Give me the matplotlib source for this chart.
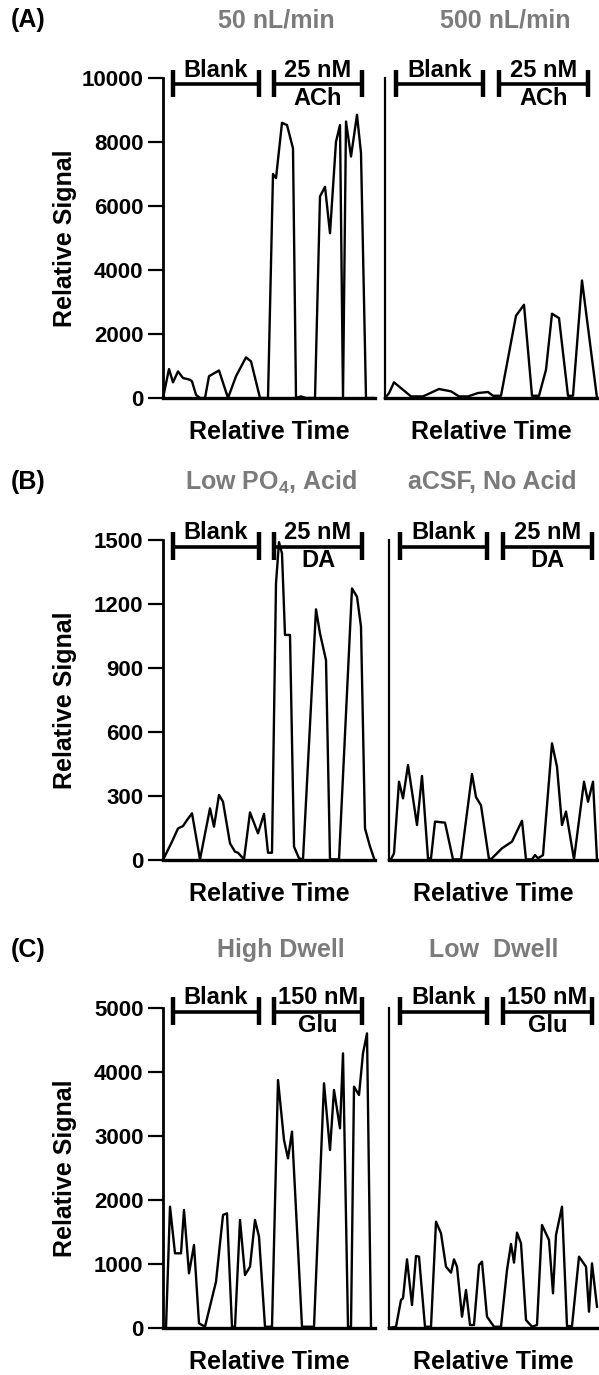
import matplotlib
matplotlib.use('Agg')
import matplotlib.pyplot as plt
import matplotlib.transforms as mtransforms

plt.rcParams['font.family'] = ['Liberation Sans', 'DejaVu Sans']
plt.rcParams['font.weight'] = 'bold'
plt.rcParams['mathtext.fontset'] = 'custom'
plt.rcParams['mathtext.rm'] = 'Liberation Sans:bold'
plt.rcParams['mathtext.bf'] = 'Liberation Sans:bold'

# ---- data (relative time units, relative signal) ----
# (A) ACh, 50 nL/min
a1_t = [0, 6, 10, 15, 20, 27, 29, 33, 37, 42, 46, 56, 65, 73, 83, 88, 97, 105, 110, 113,
        119, 124, 130, 133, 138, 143, 152, 157, 162, 167, 173, 177, 180, 183, 188, 194, 198, 203, 210]
a1_y = [0, 905, 490, 830, 625, 570, 520, 100, 0, 0, 680, 860, 0, 680, 1270, 1145, 0, 0, 7000, 6870,
        8600, 8530, 7800, 0, 50, 0, 0, 6300, 6600, 5150, 8010, 8530, 0, 8640, 7545, 8850, 7650, 0, 0]
# (A) ACh, 500 nL/min
a2_t = [0, 4, 9, 26, 38, 54, 66, 74, 83, 93, 103, 108, 116, 124, 131, 139, 147, 154, 161, 167,
        174, 183, 188, 197, 212]
a2_y = [0, 150, 490, 50, 50, 281, 208, 50, 50, 156, 187, 70, 70, 1405, 2570, 2914, 70, 70, 885, 2633,
        2497, 70, 70, 3673, 0]
# (B) DA, Low PO4 + acid
b1_t = [0, 9, 15, 20, 24, 29, 37, 47, 51, 56, 60, 67, 72, 75, 81, 87, 95, 101, 105, 109,
        113, 116, 119, 122, 127, 131, 136, 140, 153, 157, 163, 167, 176, 189, 194, 198, 202, 207, 211]
b1_y = [0, 86, 148, 159, 187, 219, 3, 242, 156, 305, 273, 78, 39, 34, 3, 223, 125, 216, 34, 34,
        1297, 1490, 1437, 1055, 1055, 63, 8, 3, 1175, 1062, 937, 3, 3, 1273, 1234, 1094, 148, 63, 8]
# (B) DA, aCSF no acid
b2_t = [0, 2, 5, 10, 14, 19, 28, 33, 39, 42, 46, 56, 64, 72, 83, 87, 92, 100, 103, 113,
        123, 133, 137, 143, 146, 149, 154, 163, 168, 173, 177, 185, 195, 199, 204, 208]
b2_y = [0, 3, 31, 367, 289, 445, 164, 394, 8, 8, 180, 175, 3, 3, 403, 295, 256, 3, 8, 55,
        86, 184, 3, 3, 23, 8, 23, 547, 437, 164, 227, 3, 367, 273, 367, 3]
# (C) Glu, high dwell
c1_t = [0, 3, 7, 12, 18, 21, 26, 31, 36, 42, 53, 60, 64, 69, 72, 77, 82, 87, 92, 96,
        102, 109, 115, 121, 125, 129, 139, 151, 161, 167, 171, 177, 180, 185, 188, 191, 196, 200, 204, 208]
c1_y = [0, 0, 1896, 1167, 1167, 1844, 854, 1297, 73, 20, 724, 1766, 1792, 20, 20, 1688, 828, 958, 1688, 1427,
        20, 20, 3875, 2938, 2651, 3068, 20, 20, 3823, 2781, 3719, 3120, 4292, 20, 20, 3771, 3641, 4292, 4604, 20]
# (C) Glu, low dwell
c2_t = [0, 7, 12, 14, 18, 23, 27, 30, 36, 42, 47, 52, 57, 62, 65, 68, 73, 77, 81, 85,
        90, 93, 98, 105, 112, 118, 122, 125, 128, 132, 137, 143, 148, 153, 160, 164, 167, 173, 178, 183,
        190, 197, 200, 203, 208]
c2_y = [0, 20, 438, 464, 1073, 359, 1125, 1115, 20, 20, 1661, 1479, 958, 865, 1073, 958, 177, 594, 47, 47,
        984, 1036, 177, 20, 20, 906, 1313, 1021, 1490, 1323, 125, 20, 47, 1609, 1375, 542, 1453, 1896, 30, 30,
        1115, 958, 255, 1010, 333]

row_letters = ['(A)', '(B)', '(C)']
row_titles = [['50 nL/min', '500 nL/min'],
              ['Low PO$_4$, Acid', 'aCSF, No Acid'],
              ['High Dwell', 'Low  Dwell']]
row_ymax = [10000, 1500, 5000]
row_yticks = [[0, 2000, 4000, 6000, 8000, 10000],
              [0, 300, 600, 900, 1200, 1500],
              [0, 1000, 2000, 3000, 4000, 5000]]
stim_top = ['25 nM', '25 nM', '150 nM']
stim_bottom = ['ACh', 'DA', 'Glu']
traces = [[(a1_t, a1_y), (a2_t, a2_y)],
          [(b1_t, b1_y), (b2_t, b2_y)],
          [(c1_t, c1_y), (c2_t, c2_y)]]
# bracket spans (relative time) for left / right panels
blank_span = [(10, 96), (11, 98)]
stim_span = [(111, 199), (114, 203)]

# ---- layout in pixels ----
W, H = 599, 1375
fig = plt.figure(figsize=(W / 100, H / 100), dpi=100)

row_top = [78, 540, 1008]
bracket_y = [0.981, 0.979, 0.988]
right_x0 = [385, 389, 389]
title_x = [[276, 505], [271, 492], [281, 494]]
AH = 320
grey = '#7b7b7b'


def bracket(ax, x0, x1, yf, top_txt, bot_txt=None):
    tr = mtransforms.blended_transform_factory(ax.transData, ax.transAxes)
    ax.plot([x0, x1], [yf, yf], color='black', lw=2.6, transform=tr, clip_on=False,
            solid_capstyle='butt')
    for xx in (x0, x1):
        ax.plot([xx, xx], [yf - 0.04, yf + 0.045], color='black', lw=3.2, transform=tr,
                clip_on=False, solid_capstyle='butt')
    xm = (x0 + x1) / 2
    ax.text(xm, yf + 0.008, top_txt, transform=tr, ha='center', va='bottom',
            fontsize=17, fontweight='bold')
    if bot_txt:
        ax.text(xm, yf - 0.008, bot_txt, transform=tr, ha='center', va='top',
                fontsize=17, fontweight='bold')


for r in range(3):
    top = row_top[r]
    for c in range(2):
        if c == 0:
            x0, w = 163, 212
        else:
            x0 = right_x0[r]
            w = 598 - x0
        ax = fig.add_axes([x0 / W, 1 - (top + AH) / H, w / W, AH / H])
        t, y = traces[r][c]
        ax.plot(t, y, color='black', lw=1.7, clip_on=False)
        ax.set_xlim(0, w)
        ax.set_ylim(0, row_ymax[r])
        ax.spines['top'].set_visible(False)
        ax.spines['right'].set_visible(False)
        ax.spines['bottom'].set_linewidth(2.4)
        ax.set_xticks([])
        if c == 0:
            ax.spines['left'].set_linewidth(2.0)
            ax.set_yticks(row_yticks[r])
            ax.tick_params(axis='y', length=11, width=1.6, labelsize=16, pad=3)
            for lab in ax.get_yticklabels():
                lab.set_fontweight('bold')
        else:
            ax.spines['left'].set_linewidth(1.6)
            ax.set_yticks([])
        # brackets
        bracket(ax, *blank_span[c], bracket_y[r], 'Blank')
        bracket(ax, *stim_span[c], bracket_y[r], stim_top[r], stim_bottom[r])
        ax.text(0.5, -34 / AH, 'Relative Time', transform=ax.transAxes, ha='center',
                va='center', fontsize=18, fontweight='bold')

    # y label, row letter and titles
    fig.text(65 / W, 1 - (top + AH / 2) / H, 'Relative Signal', rotation=90,
             ha='center', va='center', fontsize=18, fontweight='bold')
    ty = 1 - (top - 58) / H
    fig.text(28 / W, ty, row_letters[r], ha='center', va='center', fontsize=18,
             fontweight='bold')
    for c in range(2):
        fig.text(title_x[r][c] / W, ty, row_titles[r][c], ha='center', va='center',
                 fontsize=18, fontweight='bold', color=grey)

fig.savefig('out.png', dpi=100)
